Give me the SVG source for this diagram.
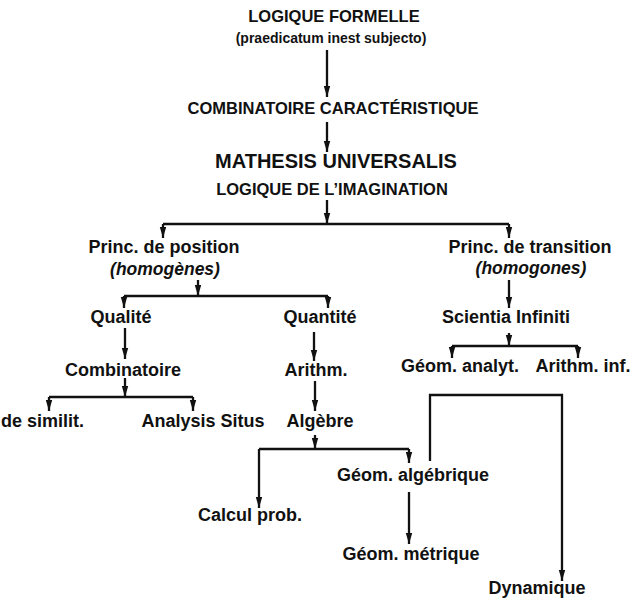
<svg xmlns="http://www.w3.org/2000/svg" width="635" height="600" viewBox="0 0 635 600">
<defs>
<marker id="ah" markerUnits="userSpaceOnUse" markerWidth="12" markerHeight="8" refX="11" refY="4" orient="auto">
<path d="M0,0.8 L11,4 L0,7.2 z" fill="#111"/>
</marker>
<style>
text{font-family:"Liberation Sans",Arial,sans-serif;font-weight:bold;fill:#111;text-anchor:middle}
.cap{font-size:16.5px}
.big{font-size:20px}
.sub{font-size:14px}
.n{font-size:18px}
.it{font-size:17.5px;font-style:italic}
.c path{fill:none;stroke:#111;stroke-width:2.3}
.c .a{marker-end:url(#ah)}
</style>
</defs>
<rect width="635" height="600" fill="#fff"/>
<g class="c" id="connectors">
<path class="a" d="M327,50 V97"/>
<path class="a" d="M327,122 V152"/>
<path class="a" d="M327,200 V224"/>
<path d="M163,224 H509"/>
<path class="a" d="M163,224 V238"/>
<path class="a" d="M509,224 V238"/>
<path class="a" d="M198,280 V296"/>
<path d="M124,296 H328"/>
<path class="a" d="M124,296 V308"/>
<path class="a" d="M328,296 V308"/>
<path class="a" d="M125,328 V359"/>
<path class="a" d="M314,332 V361"/>
<path class="a" d="M509,280 V308"/>
<path class="a" d="M125,378 V397"/>
<path d="M49,397 H193"/>
<path class="a" d="M49,397 V411"/>
<path class="a" d="M193,397 V411"/>
<path class="a" d="M315,381 V411"/>
<path class="a" d="M509,333 V346"/>
<path d="M452,346 H578"/>
<path class="a" d="M452,346 V358"/>
<path class="a" d="M578,346 V358"/>
<path class="a" d="M315,435 V449"/>
<path d="M259,449 H409"/>
<path class="a" d="M259,449 V508"/>
<path class="a" d="M409,449 V463"/>
<path class="a" d="M409,492 V544"/>
<path class="a" d="M430,461 V395 H562 V581"/>
</g>
<g id="logique-formelle"><text class="cap" x="334" y="22">LOGIQUE FORMELLE</text><text class="sub" x="331" y="43">(praedicatum inest subjecto)</text></g>
<g id="combinatoire-caracteristique"><text class="cap" x="333" y="114">COMBINATOIRE CARACTÉRISTIQUE</text></g>
<g id="mathesis"><text class="big" x="336" y="168">MATHESIS UNIVERSALIS</text><text class="cap" x="332" y="195">LOGIQUE DE L’IMAGINATION</text></g>
<g id="princ-position"><text class="n" x="164" y="253">Princ. de position</text><text class="it" x="165" y="275">(homogènes)</text></g>
<g id="princ-transition"><text class="n" x="530" y="253">Princ. de transition</text><text class="it" x="531" y="274">(homogones)</text></g>
<g id="qualite"><text class="n" x="121" y="323">Qualité</text></g>
<g id="quantite"><text class="n" x="320" y="323">Quantité</text></g>
<g id="scientia"><text class="n" x="506" y="323">Scientia Infiniti</text></g>
<g id="combinatoire"><text class="n" x="123" y="376">Combinatoire</text></g>
<g id="arithm"><text class="n" x="316" y="376">Arithm.</text></g>
<g id="geom-analyt"><text class="n" x="460" y="372">Géom. analyt.</text></g>
<g id="arithm-inf"><text class="n" x="583" y="372">Arithm. inf.</text></g>
<g id="similit"><text class="n" x="1" y="427" style="text-anchor:start">de similit.</text></g>
<g id="analysis-situs"><text class="n" x="203" y="427">Analysis Situs</text></g>
<g id="algebre"><text class="n" x="320" y="427">Algèbre</text></g>
<g id="geom-algebrique"><text class="n" x="413" y="481">Géom. algébrique</text></g>
<g id="calcul-prob"><text class="n" x="250" y="521">Calcul prob.</text></g>
<g id="geom-metrique"><text class="n" x="411" y="560">Géom. métrique</text></g>
<g id="dynamique"><text class="n" x="537" y="594">Dynamique</text></g>
</svg>
